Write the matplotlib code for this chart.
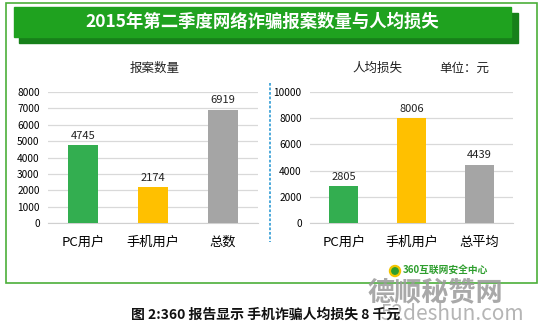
import matplotlib.pyplot as plt
from matplotlib.patches import Rectangle, Circle
from matplotlib.lines import Line2D

plt.rcParams['font.family'] = ['Noto Sans CJK SC', 'DejaVu Sans']

# report counts
cases_labels = ["PC用户", "手机用户", "总数"]
cases_values = [4745, 2174, 6919]

# average loss per person (yuan)
loss_labels = ["PC用户", "手机用户", "总平均"]
loss_values = [2805, 8006, 4439]

bar_colors = ["#33AE50", "#FFC000", "#A5A5A5"]

W, H = 543, 331
fig = plt.figure(figsize=(W / 100, H / 100), dpi=100)
fig.patch.set_facecolor("white")


def px(x, y, w=0, h=0):
    # pixel box (top-left origin) -> figure fraction
    return [x / W, 1 - (y + h) / H, w / W, h / H]


def draw_bars(ax, labels, values, ymax, step):
    xs = range(len(values))
    ax.bar(xs, values, width=0.43, color=bar_colors, zorder=3)
    for x, v in zip(xs, values):
        ax.text(x, v + ymax * 0.035, str(v), ha="center", va="bottom",
                fontsize=8, color="#222222")
    ax.set_xlim(-0.5, len(values) - 0.5)
    ax.set_ylim(0, ymax)
    ax.set_yticks(range(0, ymax + 1, step))
    ax.yaxis.grid(True, color="#D9D9D9", linewidth=0.9, zorder=0)
    ax.set_xticks(list(xs))
    ax.set_xticklabels(labels, fontsize=9.5)
    ax.tick_params(axis="x", length=0, pad=9)
    ax.tick_params(axis="y", length=0, labelsize=7.3, pad=6)
    for s in ["top", "right", "left"]:
        ax.spines[s].set_visible(False)
    ax.spines["bottom"].set_color("#D0D0D0")


ax1 = fig.add_axes(px(48, 92, 210, 131))
draw_bars(ax1, cases_labels, cases_values, 8000, 1000)

ax2 = fig.add_axes(px(310, 92, 203, 131))
draw_bars(ax2, loss_labels, loss_values, 10000, 2000)

# overlay for frame, banner and texts in pixel coordinates
ov = fig.add_axes([0, 0, 1, 1], zorder=-1)
ov.set_xlim(0, W)
ov.set_ylim(H, 0)
ov.axis("off")

ov.add_patch(Rectangle((6, 3), 531, 280, fill=False, edgecolor="#4CAF3A", linewidth=1.2))
ov.add_patch(Rectangle((19, 13), 499, 30, color="#17801A"))
ov.add_patch(Rectangle((14, 7), 497, 30, color="#1FA21F"))
ov.text(262, 22, "2015年第二季度网络诈骗报案数量与人均损失", color="white",
        fontsize=12.5, fontweight="bold", ha="center", va="center")

ov.text(155, 68, "报案数量", fontsize=9, ha="center", va="center", color="#222222")
ov.text(377, 68, "人均损失", fontsize=9, ha="center", va="center", color="#222222")
ov.text(464, 68, "单位：元", fontsize=9, ha="center", va="center", color="#222222")

ov.add_line(Line2D([270, 270], [83, 242], color="#3FA3D8", linewidth=1.3,
                   linestyle=(0, (1.5, 1))))

# logo
ov.add_patch(Circle((395, 271), 5.5, color="#F2C500"))
ov.add_patch(Circle((395, 271), 3.2, color="#2E9E2E"))
ov.text(403, 271, "360互联网安全中心", fontsize=7, fontweight="bold",
        color="#2E9E2E", ha="left", va="center")

# watermark
ov.text(435, 292, "德顺秘赞网", fontsize=19.5, fontweight="bold", color="#9A9A9A",
        ha="center", va="center", alpha=0.85)
ov.text(452, 314, "52deshun.com", fontsize=15, color="#A8A8A8",
        ha="center", va="center", alpha=0.85)

ov.text(266, 315, "图 2:360 报告显示 手机诈骗人均损失 8 千元", fontsize=10,
        fontweight="bold", ha="center", va="center", color="#111111", zorder=5)

fig.savefig("out.png", dpi=100, facecolor="white")
